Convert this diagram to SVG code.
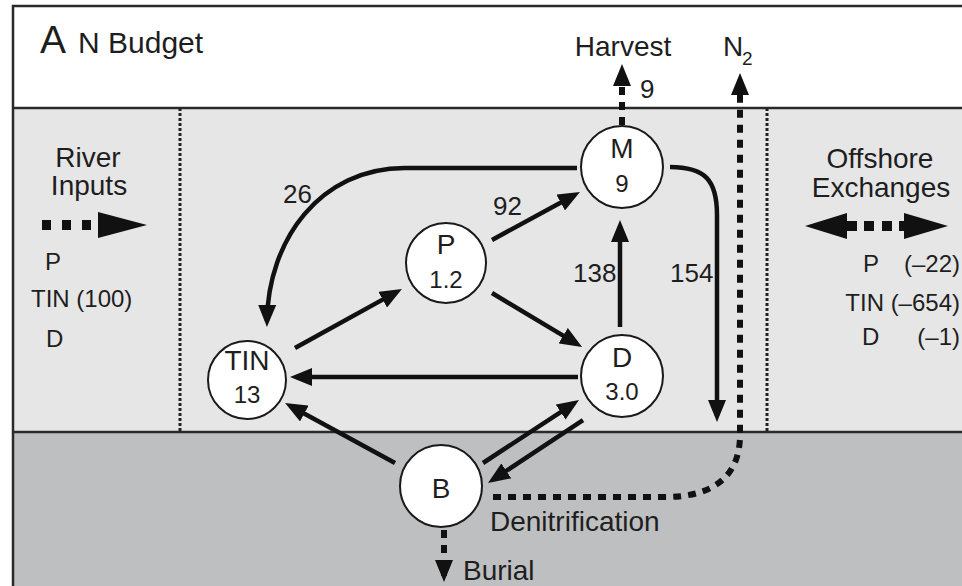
<svg xmlns="http://www.w3.org/2000/svg" width="962" height="586" viewBox="0 0 962 586">
<style>
text{font-family:"Liberation Sans",Arial,Helvetica,sans-serif;fill:#1e1e1e}
.lbl{font-size:28px}
.lst{font-size:24px}
.num{font-size:26px}
.nl{font-size:28px;text-anchor:middle}
.nn{font-size:24px;text-anchor:middle}
.node{fill:#fff;stroke:#1a1a1a;stroke-width:2}
.edge{fill:none;stroke:#111;stroke-width:4.5;marker-end:url(#ah)}
.dash{fill:none;stroke:#111;stroke-width:6;stroke-dasharray:8 7}
.dot{fill:none;stroke:#222;stroke-width:3;stroke-dasharray:3 2}
</style>
<defs>
<marker id="ah" markerUnits="userSpaceOnUse" markerWidth="22" markerHeight="18" viewBox="0 0 22 18" refX="16" refY="9" orient="auto"><path d="M0,0 L22,9 L0,18 z" fill="#111"/></marker>
</defs>
<rect x="0" y="0" width="962" height="586" fill="#fff"/>
<rect x="13" y="108" width="960" height="324" fill="#e6e6e6"/>
<rect x="13" y="432" width="960" height="160" fill="#bebfc1"/>
<rect x="13" y="6" width="960" height="590" fill="none" stroke="#2a2a2a" stroke-width="2.5"/>
<line x1="13" y1="108" x2="962" y2="108" stroke="#2a2a2a" stroke-width="2.5"/>
<line x1="13" y1="432" x2="962" y2="432" stroke="#2a2a2a" stroke-width="2.5"/>
<line class="dot" x1="180" y1="108" x2="180" y2="432"/>
<line class="dot" x1="767" y1="108" x2="767" y2="432"/>

<text x="40" y="53" style="font-size:39px">A</text>
<text x="78" y="53" style="font-size:30px">N Budget</text>

<g id="river-inputs">
<text class="lbl" x="88" y="167" text-anchor="middle">River</text>
<text class="lbl" x="89" y="195" text-anchor="middle">Inputs</text>
<line x1="42" y1="225" x2="100" y2="225" stroke="#111" stroke-width="10" stroke-dasharray="9 11"/>
<polygon points="98,212 147,225 98,238" fill="#111"/>
<text class="lst" x="45" y="270">P</text>
<text class="lst" x="31" y="307">TIN (100)</text>
<text class="lst" x="46" y="347">D</text>
</g>

<g id="offshore-exchanges">
<text class="lbl" x="880" y="168" text-anchor="middle">Offshore</text>
<text class="lbl" x="881" y="197" text-anchor="middle">Exchanges</text>
<polygon points="805,226 847,213 847,239" fill="#111"/>
<line x1="845" y1="226" x2="906" y2="226" stroke="#111" stroke-width="10" stroke-dasharray="12 7 10 8 10 7 8"/>
<polygon points="904,213 948,226 904,239" fill="#111"/>
<text class="lst" x="863" y="272">P</text>
<text class="lst" x="960" y="272" text-anchor="end">(–22)</text>
<text class="lst" x="960" y="311" text-anchor="end">TIN (–654)</text>
<text class="lst" x="862" y="345">D</text>
<text class="lst" x="960" y="345" text-anchor="end">(–1)</text>
</g>

<g id="harvest">
<text class="lbl" x="623" y="56" text-anchor="middle">Harvest</text>
<text class="num" x="640" y="98">9</text>
</g>
<g id="n2">
<text class="lbl" x="723" y="56">N</text>
<text x="742" y="65" style="font-size:19px">2</text>
</g>
<g id="denitrification">
<text class="lbl" x="490" y="531">Denitrification</text>
</g>
<g id="burial">
<text class="lbl" x="463" y="580">Burial</text>
</g>

<g id="connectors">
<path class="edge" d="M577,168 L405,168 C320,168 268,240 267,321"/>
<text class="num" x="283" y="203">26</text>
<path class="edge" d="M670,167 C705,167 717,180 717,215 L717,416"/>
<text class="num" x="670" y="282">154</text>
<path class="edge" d="M492,240 L574.7,194.9"/>
<text class="num" x="493" y="215">92</text>
<path class="edge" d="M295,348 L396.7,291.9"/>
<path class="edge" d="M492,293 L576.9,343.9"/>
<path class="edge" d="M578,377 L296,377"/>
<path class="edge" d="M620,327 L620,226"/>
<text class="num" x="573" y="282">138</text>
<path class="edge" d="M395,463 L290.3,405.9"/>
<path class="edge" d="M483,463 L574,403.3"/>
<path class="edge" d="M583,420 L493,479.7"/>
<path class="dash" d="M622,125 L622,70" marker-end="url(#ah)"/>
<path class="dash" d="M493,497 L665,497 C715,497 740,475 740,435 L740,79" marker-end="url(#ah)"/>
<path class="dash" d="M444,530 L444,576" marker-end="url(#ah)"/>
</g>

<g id="node-M">
<circle class="node" cx="622" cy="167" r="41"/>
<text class="nl" x="622" y="158">M</text>
<text class="nn" x="622" y="192">9</text>
</g>
<g id="node-P">
<circle class="node" cx="446" cy="263" r="40"/>
<text class="nl" x="446" y="254">P</text>
<text class="nn" x="446" y="288">1.2</text>
</g>
<g id="node-TIN">
<circle class="node" cx="247" cy="380" r="39"/>
<text class="nl" x="247" y="370">TIN</text>
<text class="nn" x="247" y="403">13</text>
</g>
<g id="node-D">
<circle class="node" cx="622" cy="376" r="41"/>
<text class="nl" x="622" y="367">D</text>
<text class="nn" x="622" y="400">3.0</text>
</g>
<g id="node-B">
<circle class="node" cx="441" cy="486" r="41"/>
<text class="nl" x="441" y="498">B</text>
</g>
</svg>
